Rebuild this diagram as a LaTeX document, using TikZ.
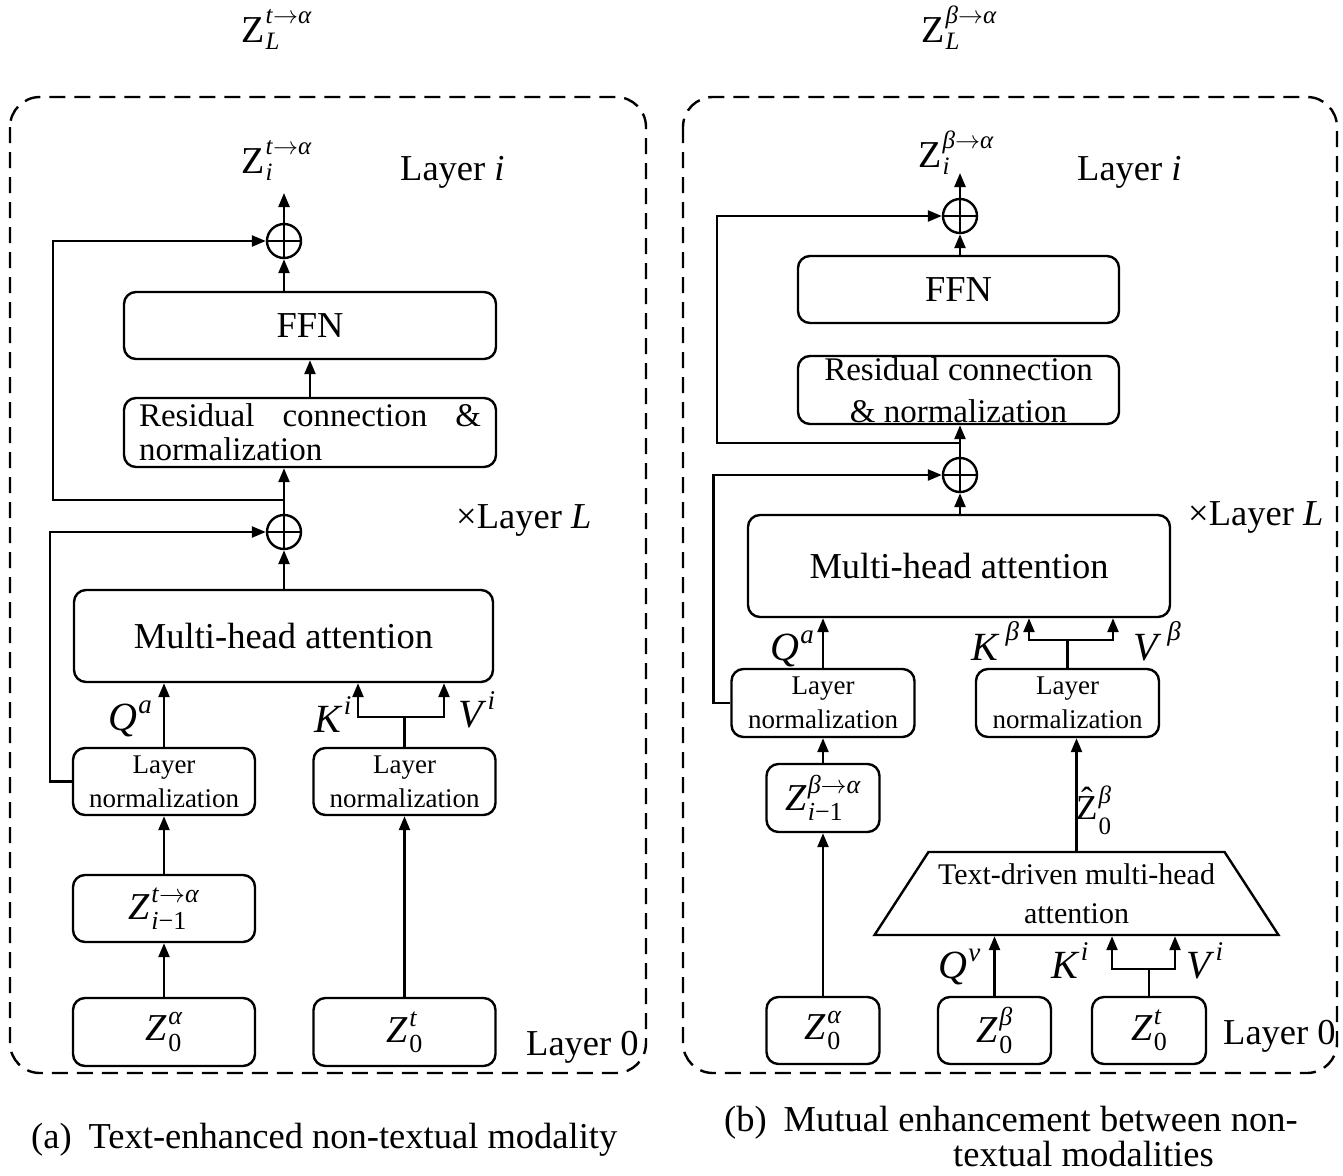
\RequirePackage{fix-cm}
\documentclass[tikz,border=0pt]{standalone}
\usepackage{fontspec}
\setmainfont{Liberation Serif}
\usetikzlibrary{arrows.meta,shapes.geometric,calc}
\newcommand\fs[2]{\fontsize{#1}{#2}\selectfont}
\newcommand\scr{\fs{22}{22}}
% base, superscript, subscript, raise of sup, drop of sub
\newcommand\SupSub[5]{\mbox{#1\kern0.03em\setbox0=\hbox{\scr #2}\setbox2=\hbox{\scr #3}%
  \dimen0=\wd0 \ifdim\wd2>\dimen0 \dimen0=\wd2 \fi
  \hbox to \dimen0{\rlap{\raisebox{#4}{\box0}}\raisebox{-#5}{\box2}\hss}}}
\newcommand\ta{\textit{t}$\rightarrow$\textit{α}}
\newcommand\ba{\textit{β}$\rightarrow$\textit{α}}
\newcommand\imo{\textit{i}−1}
\newcommand\Zhat{\ooalign{Z\cr\hidewidth\raisebox{0.22em}{ˆ}\hidewidth\cr}}
\begin{document}
\begin{tikzpicture}[x=1pt,y=-1pt,
  lw/.style={line width=2.4pt},
  box/.style={draw, lw, rounded corners=12pt, inner sep=0pt, align=center},
  arr/.style={lw, -{Triangle[length=14pt,width=11pt]}},
  ln/.style={lw},
  frame/.style={line width=2.4pt, dash pattern=on 16pt off 9pt, rounded corners=30pt},
  oplus/.style={circle, draw, lw, minimum size=34pt, inner sep=0pt,
    path picture={\draw[lw] (path picture bounding box.north) -- (path picture bounding box.south)
      (path picture bounding box.west) -- (path picture bounding box.east);}},
  big/.style={font=\fs{36.5}{40}},
  zbox/.style={font=\fs{38}{40}\def\scr{\fs{26}{26}}},
  lnbox/.style={font=\fs{27}{34}},
  qkv/.style={anchor=base west, inner sep=0pt, font=\fs{40}{40}\def\scr{\fs{27}{27}}},
  txt/.style={anchor=base west, inner sep=0pt, font=\fs{36.5}{40}},
  toplab/.style={anchor=base west, inner sep=0pt, font=\fs{38}{38}\def\scr{\fs{25}{25}}},
]
\useasboundingbox (0,0) rectangle (1343,1175);

% ================= panel (a) =================
\draw[frame] (10,97) rectangle (646,1073);

\node[box, big, minimum width=372pt, minimum height=67pt] (ffnA) at (310,325.5) {FFN};
\node[box, font=\fs{33}{34}, minimum width=372pt, minimum height=69pt] (resA) at (310,432.5)
  {\hbox to 342pt{Residual\hfill connection\hfill\&}\\\hbox to 342pt{normalization\hfill}};
\node[box, big, minimum width=419pt, minimum height=92pt] (mhaA) at (283.5,636) {Multi-head attention};
\node[box, lnbox, minimum width=182pt, minimum height=67pt] (lnA1) at (164,781.5) {Layer\\normalization};
\node[box, lnbox, minimum width=182pt, minimum height=67pt] (lnA2) at (404.5,781.5) {Layer\\normalization};
\node[box, zbox, minimum width=182pt, minimum height=67pt] (ziA) at (164,908.5)
  {\SupSub{\textit{Z}}{\ta}{\imo}{0.45em}{0.27em}};
\node[box, zbox, minimum width=182pt, minimum height=68pt] (z0aA) at (164,1032)
  {\SupSub{\textit{Z}}{\textit{α}}{0}{0.42em}{0.27em}};
\node[box, zbox, minimum width=182pt, minimum height=68pt] (z0tA) at (404.5,1032)
  {\SupSub{\textit{Z}}{\textit{t}}{0}{0.42em}{0.27em}};
\node[oplus] (pA1) at (284,241) {};
\node[oplus] (pA2) at (284,532) {};

\draw[arr] (z0aA) -- (ziA);
\draw[arr] (ziA) -- (lnA1);
\draw[arr] (lnA1.north) -- (lnA1.north |- mhaA.south);
\draw[arr] (z0tA) -- (lnA2);
\coordinate (kvA) at ($(lnA2.north)+(0,-30)$);
\draw[ln] (lnA2.north) -- (kvA);
\draw[arr] (kvA) -| ($(mhaA.south)+(74.5,0)$);
\draw[arr] (kvA) -| ($(mhaA.south)+(160.5,0)$);
\draw[arr] (mhaA.north -| pA2) -- (pA2);
\draw[arr] (pA2) -- (pA2 |- resA.south);
\draw[arr] (resA) -- (ffnA);
\draw[arr] (ffnA.north -| pA1) -- (pA1);
\coordinate (outA) at (284,193);
\draw[arr] (pA1) -- (outA);
\coordinate (sA1) at (284,500);
\draw[arr] (sA1) -- ++(-231,0) |- (pA1);
\draw[arr] (lnA1.west) -- ++(-22,0) |- (pA2);

\node[qkv] (qA) at (108,730) {\SupSub{\textit{Q}}{\textit{a}}{}{0.42em}{0em}};
\node[qkv] (kA) at (314,732) {\SupSub{\textit{K}}{\textit{i}}{}{0.45em}{0em}};
\node[qkv] (vA) at (458,727) {\SupSub{\textit{V}}{\textit{i}}{}{0.45em}{0em}};

\node[txt] (layiA) at (400,180) {Layer \textit{i}};
\node[txt] (xlA) at (456,528) {×Layer \textit{L}};
\node[txt] (l0A) at (526,1055) {Layer 0};
\node[txt] (capA) at (31,1148) {(a)\hspace{17pt}Text-enhanced non-textual modality};

\node[toplab] (zLA) at (241,42) {\SupSub{Z}{\ta}{\textit{L}}{0.5em}{0.2em}};
\node[toplab] (zoA) at (241,173) {\SupSub{Z}{\ta}{\textit{i}}{0.5em}{0.2em}};

% ================= panel (b) =================
\draw[frame] (683,97) rectangle (1337,1073);

\node[box, big, minimum width=321pt, minimum height=67pt] (ffnB) at (958.5,289.5) {FFN};
\node[box, font=\fs{33}{42}, minimum width=321pt, minimum height=68pt] (resB) at (958.5,390)
  {Residual connection\\\& normalization};
\node[box, big, minimum width=422pt, minimum height=102pt] (mhaB) at (959,566) {Multi-head attention};
\node[box, lnbox, minimum width=183pt, minimum height=68pt] (lnB1) at (823,703) {Layer\\normalization};
\node[box, lnbox, minimum width=183pt, minimum height=68pt] (lnB2) at (1067.5,703) {Layer\\normalization};
\node[box, zbox, minimum width=113pt, minimum height=68pt] (ziB) at (823,798)
  {\SupSub{\textit{Z}}{\ba}{\imo}{0.45em}{0.27em}};
\node[box, zbox, minimum width=113pt, minimum height=67pt] (z0aB) at (823,1030.5)
  {\SupSub{\textit{Z}}{\textit{α}}{0}{0.42em}{0.27em}};
\node[box, zbox, minimum width=113pt, minimum height=67pt] (z0bB) at (994.5,1030.5)
  {\SupSub{\textit{Z}}{\textit{β}}{0}{0.45em}{0.27em}};
\node[box, zbox, minimum width=114pt, minimum height=67pt] (z0tB) at (1149,1030.5)
  {\SupSub{\textit{Z}}{\textit{t}}{0}{0.42em}{0.27em}};
\node[trapezium, draw, lw, trapezium left angle=50, trapezium right angle=50, trapezium stretches=true,
  minimum width=405pt, minimum height=83pt, inner sep=0pt, align=center, font=\fs{30}{39}]
  (tdB) at (1076.5,893.5) {Text-driven multi-head\\attention};
\node[oplus] (pB1) at (960,216) {};
\node[oplus] (pB2) at (960,475) {};

\draw[arr] (z0aB) -- (ziB);
\draw[arr] (ziB) -- (lnB1);
\draw[arr] (lnB1.north) -- (lnB1.north |- mhaB.south);
\coordinate (kvB) at ($(lnB2.north)+(0,-28)$);
\draw[ln] (lnB2.north) -- (kvB);
\draw[arr] (kvB) -| ($(mhaB.south)+(70,0)$);
\draw[arr] (kvB) -| ($(mhaB.south)+(154,0)$);
\draw[arr] (tdB.north) -- (tdB.north |- lnB2.south);
\draw[arr] (z0bB) -- (z0bB |- tdB.south);
\coordinate (kvB2) at ($(z0tB.north)+(0,-27)$);
\draw[ln] (z0tB.north) -- (kvB2);
\draw[arr] (kvB2) -| ($(tdB.south)+(35.5,0)$);
\draw[arr] (kvB2) -| ($(tdB.south)+(98.5,0)$);
\draw[arr] (mhaB.north -| pB2) -- (pB2);
\draw[arr] (pB2) -- (pB2 |- resB.south);
\draw[arr] (ffnB.north -| pB1) -- (pB1);
\coordinate (outB) at (960,173);
\draw[arr] (pB1) -- (outB);
\coordinate (sB1) at (960,443);
\draw[arr] (sB1) -- ++(-243,0) |- (pB1);
\draw[arr] (lnB1.west) -- ++(-17,0) |- (pB2);

\node[qkv] (qB) at (770,660) {\SupSub{\textit{Q}}{\textit{a}}{}{0.42em}{0em}};
\node[qkv] (kB) at (971,660) {\SupSub{\textit{K}\kern0.12em}{\textit{β}}{}{0.5em}{0em}};
\node[qkv] (vB) at (1133,660) {\SupSub{\textit{V}\kern0.12em}{\textit{β}}{}{0.5em}{0em}};
\node[qkv] (qvB) at (938,978) {\SupSub{\textit{Q}}{\textit{v}}{}{0.42em}{0em}};
\node[qkv] (kiB) at (1051,978) {\SupSub{\textit{K}}{\textit{i}}{}{0.45em}{0em}};
\node[qkv] (viB) at (1186,978) {\SupSub{\textit{V}}{\textit{i}}{}{0.45em}{0em}};
\node[anchor=base west, inner sep=0pt, font=\fs{35}{35}\def\scr{\fs{25}{25}}] (zhB) at (1076,819)
  {\SupSub{\Zhat}{\textit{β}}{0}{0.45em}{0.45em}};

\node[txt] (layiB) at (1077,180) {Layer \textit{i}};
\node[txt] (xlB) at (1188,525) {×Layer \textit{L}};
\node[txt] (l0B) at (1223,1044) {Layer 0};
\node[txt, align=left, font=\fs{36.5}{35}] (capB) at (724,1166)
  {(b)\hspace{17pt}Mutual enhancement between non-\\\hspace*{229pt}textual modalities};

\node[toplab] (zLB) at (921,42) {\SupSub{Z}{\ba}{\textit{L}}{0.5em}{0.2em}};
\node[toplab] (zoB) at (918,167) {\SupSub{Z}{\ba}{\textit{i}}{0.5em}{0.2em}};
\end{tikzpicture}
\end{document}
